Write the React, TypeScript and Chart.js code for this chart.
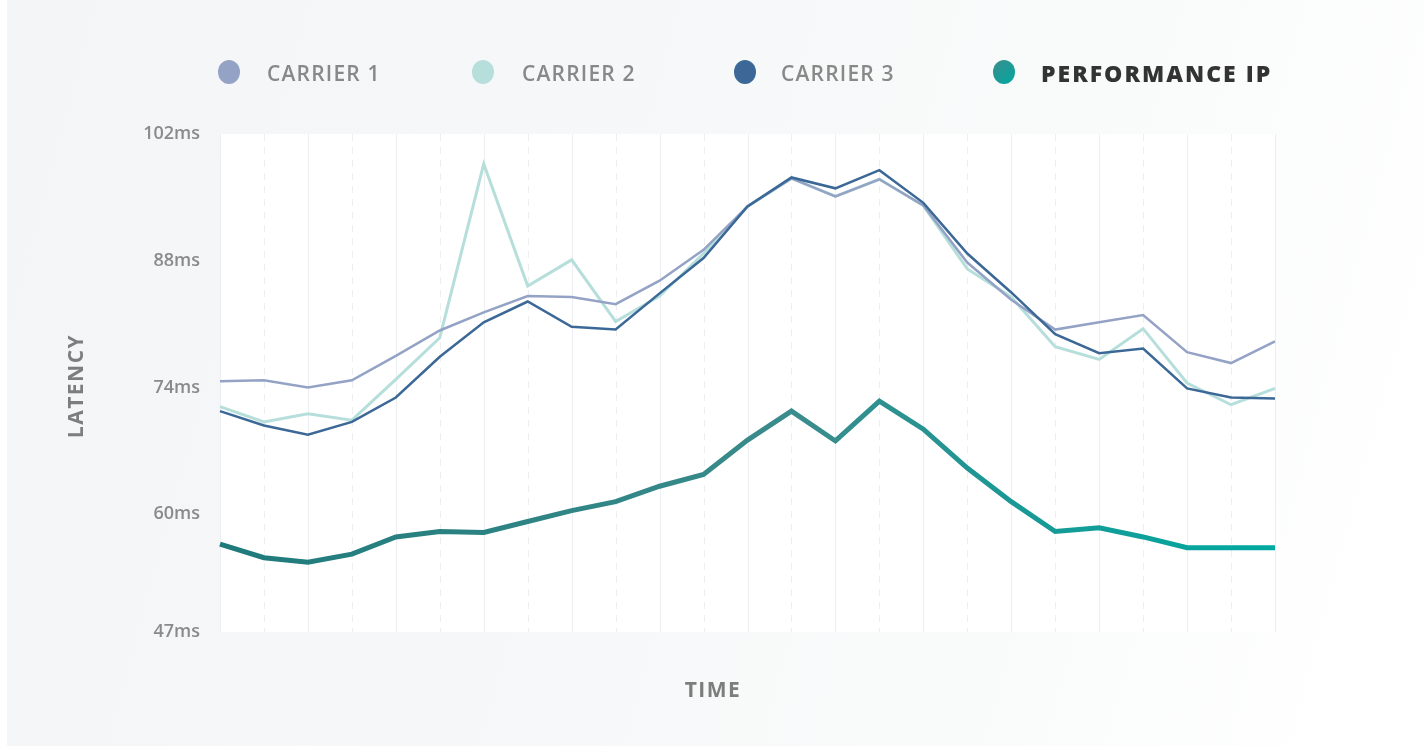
import React, { useEffect, useRef } from "react";
import { Chart, registerables } from "chart.js";

Chart.register(...registerables);

// ---------- data ----------
const timeLabels = [
  "t1", "t2", "t3", "t4", "t5", "t6", "t7", "t8", "t9", "t10", "t11", "t12", "t13",
  "t14", "t15", "t16", "t17", "t18", "t19", "t20", "t21", "t22", "t23", "t24", "t25",
];
const carrier1 = [74.7, 74.8, 74.0, 74.8, 77.5, 80.3, 82.3, 84.1, 84.0, 83.2, 85.8, 89.2, 94.0, 97.1, 95.1, 97.0, 94.1, 87.8, 83.7, 80.4, 81.2, 82.0, 77.9, 76.7, 79.1];
const carrier2 = [71.9, 70.2, 71.1, 70.4, 74.9, 79.5, 98.7, 85.2, 88.1, 81.3, 84.1, 88.8, 94.0, 97.1, 95.1, 97.0, 94.1, 87.1, 84.0, 78.5, 77.1, 80.5, 74.5, 72.1, 73.9];
const carrier3 = [71.4, 69.8, 68.8, 70.2, 72.9, 77.4, 81.2, 83.5, 80.7, 80.4, 84.4, 88.3, 94.0, 97.2, 96.0, 98.0, 94.4, 88.8, 84.5, 79.9, 77.8, 78.3, 73.9, 72.9, 72.8];
const performanceIp = [56.7, 55.2, 54.7, 55.6, 57.5, 58.1, 58.0, 59.2, 60.4, 61.4, 63.1, 64.4, 68.2, 71.4, 68.1, 72.5, 69.4, 65.1, 61.4, 58.1, 58.5, 57.5, 56.3, 56.3, 56.3];
const yTicks = [47, 60, 74, 88, 102];
const seriesNames = ["CARRIER 1", "CARRIER 2", "CARRIER 3", "PERFORMANCE IP"];
const xTitle = "TIME";
const yTitle = "LATENCY";

// ---------- styles ----------
const FONT = "'Open Sans', 'DejaVu Sans', sans-serif";
const C1 = "#94a3c5";
const C2 = "#b6dfdc";
const C3 = "#3b6896";
const PERF_START = "#1f7a7b";
const PERF_MID = "#3b8c8c";
const PERF_END = "#00a9a1";
const TITLE_COLOR = "#7d7d7d";

const legendLayout = [
  { dot: 229, text: 267 },
  { dot: 483, text: 522 },
  { dot: 745, text: 781 },
  { dot: 1004, text: 1041 },
];
const legendColors = [C1, C2, C3, `linear-gradient(135deg, ${PERF_MID}, ${PERF_END})`];

const bgGridPlugin = {
  id: "bgGrid",
  beforeDatasetsDraw(chart: any) {
    const { ctx, chartArea, scales } = chart;
    const { left, right, top, bottom } = chartArea;
    const x = scales.x;
    ctx.save();
    ctx.fillStyle = "#ffffff";
    ctx.fillRect(left, top, right - left, bottom - top);
    ctx.lineWidth = 1;
    for (let i = 0; i < timeLabels.length; i++) {
      const px = Math.round(x.getPixelForValue(i)) + 0.5;
      ctx.beginPath();
      if (i % 2 === 1) {
        ctx.setLineDash([7, 6]);
        ctx.strokeStyle = "#eceef0";
      } else {
        ctx.setLineDash([]);
        ctx.strokeStyle = "#eceef1";
      }
      ctx.moveTo(px, top);
      ctx.lineTo(px, bottom);
      ctx.stroke();
    }
    ctx.restore();
  },
};

const axisTitlePlugin = {
  id: "axisTitles",
  afterDraw(chart: any) {
    const { ctx } = chart;
    ctx.save();
    ctx.fillStyle = TITLE_COLOR;
    ctx.font = `bold 21px ${FONT}`;
    ctx.textAlign = "center";
    ctx.textBaseline = "middle";
    (ctx as any).letterSpacing = "1.5px";
    ctx.fillText(xTitle, 713, 691);
    ctx.translate(77, 386);
    ctx.rotate(-Math.PI / 2);
    ctx.fillText(yTitle, 0, 0);
    ctx.restore();
  },
};

function perfGradient(context: any) {
  const chart = context.chart;
  const area = chart.chartArea;
  if (!area) return PERF_START;
  const g = chart.ctx.createLinearGradient(area.left, 0, area.right, 0);
  g.addColorStop(0, PERF_START);
  g.addColorStop(0.55, PERF_MID);
  g.addColorStop(0.75, "#1a9895");
  g.addColorStop(1, PERF_END);
  return g;
}

export default function App() {
  const canvasRef = useRef<HTMLCanvasElement | null>(null);

  useEffect(() => {
    const canvas = canvasRef.current;
    if (!canvas) return;
    const chart = new Chart(canvas, {
      type: "line",
      data: {
        labels: timeLabels,
        datasets: [
          {
            label: seriesNames[3],
            data: performanceIp,
            borderColor: perfGradient,
            borderWidth: 5,
            pointRadius: 0,
            tension: 0,
            order: 0,
          },
          {
            label: seriesNames[2],
            data: carrier3,
            borderColor: C3,
            borderWidth: 2.5,
            pointRadius: 0,
            tension: 0,
            order: 1,
          },
          {
            label: seriesNames[0],
            data: carrier1,
            borderColor: C1,
            borderWidth: 2.5,
            pointRadius: 0,
            tension: 0,
            order: 2,
          },
          {
            label: seriesNames[1],
            data: carrier2,
            borderColor: C2,
            borderWidth: 3,
            pointRadius: 0,
            tension: 0,
            order: 3,
          },
        ],
      },
      options: {
        responsive: false,
        animation: false,
        layout: { padding: { left: 0, right: 149, top: 134, bottom: 0 } },
        plugins: {
          legend: { display: false },
          tooltip: { enabled: false },
        },
        scales: {
          x: {
            type: "category",
            grid: { display: false },
            border: { display: false },
            ticks: { display: false },
            title: { display: false },
            afterFit(scale: any) {
              scale.height = 114;
            },
          },
          y: {
            type: "linear",
            min: 47,
            max: 102,
            grid: { display: false, drawTicks: false },
            border: { display: false },
            afterBuildTicks(scale: any) {
              scale.ticks = yTicks.map((v) => ({ value: v }));
            },
            ticks: {
              color: "#8a8a8a",
              padding: 20,
              font: { family: FONT, size: 18, weight: "600" },
              callback: (v: any) => `${v}ms`,
            },
            title: { display: false },
            afterFit(scale: any) {
              scale.width = 220;
            },
          },
        },
      },
      plugins: [bgGridPlugin, axisTitlePlugin],
    });
    return () => chart.destroy();
  }, []);

  return (
    <div
      style={{
        position: "absolute",
        left: 0,
        top: 0,
        width: 1424,
        height: 746,
        overflow: "hidden",
        background: "#ffffff",
        fontFamily: FONT,
      }}
    >
      <div
        style={{
          position: "absolute",
          left: 7,
          top: 0,
          width: 1417,
          height: 746,
          background:
            "linear-gradient(105deg, #f3f5f6 0%, #f6f7f8 35%, #f9fafa 70%, #ffffff 95%)",
        }}
      />
      <canvas
        ref={canvasRef}
        width={1424}
        height={746}
        style={{ position: "absolute", left: 0, top: 0, width: 1424, height: 746 }}
      />
      {seriesNames.map((name, i) => {
        const isPerf = i === 3;
        return (
          <React.Fragment key={name}>
            <div
              style={{
                position: "absolute",
                left: legendLayout[i].dot - 11,
                top: 72 - 12,
                width: 22,
                height: 24,
                borderRadius: "50%",
                background: legendColors[i],
              }}
            />
            <div
              style={{
                position: "absolute",
                left: legendLayout[i].text,
                top: 73 - 15,
                height: 30,
                lineHeight: "30px",
                whiteSpace: "nowrap",
                fontSize: isPerf ? 23 : 21,
                letterSpacing: isPerf ? "2px" : "1.2px",
                fontWeight: isPerf ? 800 : 600,
                color: isPerf ? "#333333" : "#888888",
              }}
            >
              {name}
            </div>
          </React.Fragment>
        );
      })}
    </div>
  );
}
